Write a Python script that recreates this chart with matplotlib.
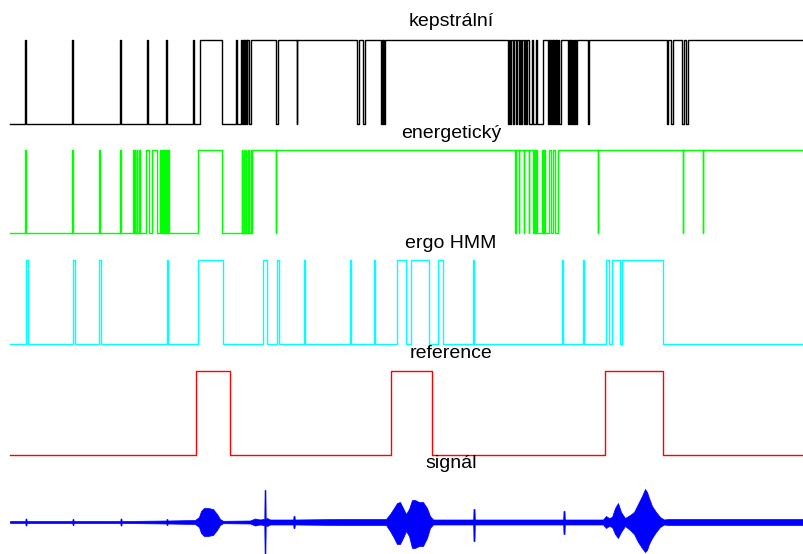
"""
Detekce reci: srovnani detektoru (kepstralni, energeticky, ergo HMM)
s referenci a puvodnim signalem.
"""
import numpy as np
import matplotlib
matplotlib.use('Agg')
import matplotlib.pyplot as plt

# osa x = cislo ramce (10 .. 804)
START, END = 10, 804

titles = ["kepstrální", "energetický", "ergo HMM", "reference", "signál"]
colors = ["#000000", "#00ff00", "#00ffff", "#ff0000", "#0000ff"]

# useky, kde detektor hlasi rec (zacatek, konec ramce)
kep_on = [(25.5, 26.5), (72.5, 73.5), (120.5, 121.5), (147.5, 148.5), (166.5, 167.5),
          (193.5, 194.5), (200, 222), (236.5, 237.5), (241.5, 242.5), (243, 244),
          (244.5, 245.5), (246, 247), (247.5, 249), (251, 276.5), (278, 296.8),
          (297.5, 357.5), (359, 363.5), (364.8, 381), (381.8, 382.6), (383.4, 384.2),
          (385, 508), (509, 510.5), (511.5, 513.5), (514.5, 516), (517, 519),
          (520, 521.5), (522.5, 524.5), (525.5, 526.5), (527.5, 529), (532.5, 533.5),
          (536.5, 537.5), (543, 548), (549, 549.8), (550.5, 551.3), (552, 552.8),
          (553.5, 554.3), (555, 555.8), (556.5, 557.3), (558, 559), (561, 568),
          (568.8, 569.6), (570.4, 571.2), (572, 572.8), (573.6, 574.4), (575.2, 576),
          (577, 588.5), (589.5, 667), (668, 671.5), (673, 682.5), (684, 686.5),
          (688, 804)]

ene_on = [(25.5, 26.5), (72.5, 73.5), (99.5, 100.5), (120.5, 121.5), (133, 133.6),
          (134.6, 135.2), (136.8, 137.4), (139, 139.6), (145.7, 149), (151.7, 157.3),
          (160.5, 161.5), (162.5, 163.3), (164, 164.8), (165.5, 166.3), (167, 167.8),
          (168.5, 169.5), (198.3, 222.3), (241.8, 242.4), (243.8, 244.4), (245.8, 246.4),
          (248.3, 248.9), (250.6, 251.2), (252.3, 275.7), (276.3, 515), (515.6, 518.7),
          (519.3, 523.7), (524.3, 528.7), (529.3, 533), (534, 534.8), (535.8, 536.7),
          (542, 543), (544, 545), (549.3, 550.7), (553.3, 555), (558.3, 597.7),
          (598.3, 682.7), (683.3, 702.7), (703.3, 804)]

hmm_on = [(26.3, 28.3), (73.3, 75.3), (99, 101), (166.7, 168.3), (197.7, 223.3),
          (263.3, 267.3), (276.7, 279), (304, 305), (349.7, 350.7), (374, 375),
          (396.7, 405.7), (410.7, 429.3), (438.3, 442.7), (473, 474), (561.7, 563.3),
          (582.7, 584.3), (605.7, 609.3), (611.7, 620), (621.7, 663.3)]

ref_on = [(196, 230), (391, 432), (605, 663)]

# obalka signalu (ramec, horni a dolni amplituda)
sig_x  = [10, 25.3, 25.6, 26.4, 26.7, 72.3, 72.6, 73.4, 73.7, 120.3,
          120.6, 121.4, 121.7, 140, 166.4, 166.6, 167.4, 167.6, 195, 199,
          201, 204, 208, 213, 217, 220, 223, 250, 255, 260,
          263, 264.3, 264.6, 265.4, 265.7, 267, 270, 293.2, 293.5, 294.5,
          294.8, 340, 386, 390, 394, 397, 400, 403, 406, 409,
          412, 415, 419, 423, 427, 430, 433, 473.2, 473.5, 474.5,
          474.8, 563.2, 563.5, 564.5, 564.8, 603, 606, 609, 612, 615,
          618, 621, 625, 630, 634, 638, 642, 645, 647, 649,
          652, 656, 660, 664, 668, 720, 804]
sig_up = [1, 1, 3.5, 3.5, 1, 1, 3, 3, 1, 1,
          3.5, 3.5, 1, 1.2, 1.5, 3, 3, 1.5, 2, 5,
          11, 14, 14, 13, 8, 3, 1.2, 1.5, 3.5, 2.5,
          3, 3, 32, 32, 3, 4, 2.5, 2.5, 6, 6,
          2.5, 3, 3, 8, 14, 19, 20, 14, 8, 13,
          22, 22, 20, 20, 14, 6, 2.5, 2.5, 13, 13,
          2.5, 2.5, 11, 11, 2.5, 2.5, 6, 4, 5, 14,
          19, 10, 4, 7, 10, 18, 26, 33, 30, 24,
          16, 10, 5, 2.5, 3, 3, 3]
sig_lo = [1, 1, 3.5, 3.5, 1, 1, 3, 3, 1, 1,
          3.5, 3.5, 1, 1.2, 1.5, 3, 3, 1.5, 2, 5,
          11, 14, 14, 13, 8, 3, 1.2, 1.5, 3.5, 2.5,
          3, 3, 32, 32, 3, 4, 2.5, 2.5, 6, 6,
          2.5, 3, 3, 9, 16, 22, 22, 16, 9, 14,
          26, 26, 24, 24, 16, 6, 2.5, 2.5, 19, 19,
          2.5, 2.5, 12, 12, 2.5, 2.5, 6, 4, 5, 12,
          16, 10, 4, 8, 12, 20, 26, 30, 28, 22,
          16, 10, 5, 2.5, 3, 3, 3]


def step_xy(intervals):
    xs, ys = [START], [0]
    for a, b in intervals:
        xs += [a, a, b, b]
        ys += [0, 1, 1, 0]
    if xs[-1] >= END:
        xs, ys = xs[:-1], ys[:-1]
    else:
        xs.append(END)
        ys.append(0)
    return xs, ys


W, H = 804, 554
fig = plt.figure(figsize=(W / 100, H / 100), dpi=100)


def px_axes(top, bot):
    return fig.add_axes([START / W, 1 - bot / H, (END - START) / W, (bot - top) / H])


panels = [(40, 124), (150, 233), (260, 344), (371, 455)]
for (top, bot), data, col in zip(panels, [kep_on, ene_on, hmm_on, ref_on], colors):
    ax = px_axes(top, bot)
    xs, ys = step_xy(data)
    ax.plot(xs, ys, color=col, lw=1.0, clip_on=False)
    ax.set_xlim(START, END)
    ax.set_ylim(0, 1)
    ax.axis('off')

# signal
ax = px_axes(478, 554)
sx = np.array(sig_x)
ax.fill_between(sx, np.array(sig_up), -np.array(sig_lo), color=colors[4], lw=0.5)
ax.set_xlim(START, END)
ax.set_ylim(-32, 44)
ax.axis('off')

title_y = [22, 133, 243, 354, 464]
for t, y in zip(titles, title_y):
    fig.text(451 / W, 1 - y / H, t, ha='center', va='center',
             fontsize=14, family='Liberation Sans')

plt.savefig("out.png", dpi=100)
plt.close()
